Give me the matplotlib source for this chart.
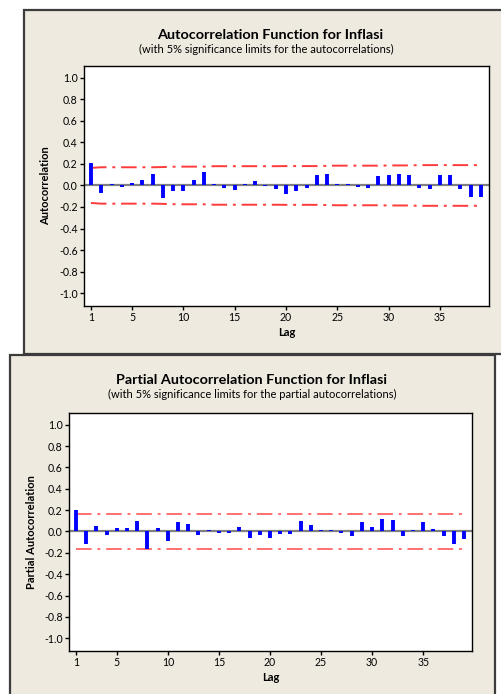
import matplotlib
matplotlib.use("Agg")
import matplotlib.pyplot as plt
from matplotlib.patches import Rectangle
import numpy as np

plt.rcParams['font.family'] = ['Lato', 'DejaVu Sans']

lags = list(range(1, 40))

acf = [0.205, -0.074, 0.015, -0.015, 0.020, 0.055, 0.105, -0.117, -0.055, -0.055,
       0.050, 0.123, 0.010, -0.028, -0.043, 0.010, 0.037, -0.005, -0.030, -0.078,
       -0.050, -0.025, 0.093, 0.110, 0.010, 0.010, -0.010, -0.025, 0.086, 0.100,
       0.110, 0.100, -0.025, -0.030, 0.100, 0.095, -0.030, -0.105, -0.105]

acf_limit = [0.163, 0.169, 0.169, 0.169, 0.169, 0.169, 0.169, 0.171, 0.174, 0.175,
             0.175, 0.175, 0.179, 0.179, 0.179, 0.179, 0.179, 0.179, 0.179, 0.180,
             0.180, 0.180, 0.180, 0.182, 0.184, 0.184, 0.184, 0.184, 0.184, 0.186,
             0.186, 0.186, 0.189, 0.189, 0.189, 0.189, 0.189, 0.189, 0.189]

pacf = [0.204, -0.113, 0.053, -0.030, 0.035, 0.035, 0.094, -0.167, 0.028, -0.090,
        0.088, 0.072, -0.030, 0.010, -0.010, -0.010, 0.044, -0.057, -0.030, -0.057,
        -0.020, -0.020, 0.097, 0.057, 0.012, 0.015, -0.010, -0.038, 0.088, 0.038,
        0.120, 0.107, -0.038, 0.015, 0.088, 0.022, -0.038, -0.113, -0.066]

pacf_limit = [0.163] * 39

xticks = [1, 5, 10, 15, 20, 25, 30, 35]
yticks = [1.0, 0.8, 0.6, 0.4, 0.2, 0.0, -0.2, -0.4, -0.6, -0.8, -1.0]

W, H = 502, 694
fig = plt.figure(figsize=(W / 100, H / 100), dpi=100)
fig.patch.set_facecolor('white')

BEIGE = '#eeeae0'
EDGE = '#3c3c3c'


def px_rect(x0, y0, x1, y1):
    return [x0 / W, 1 - y1 / H, (x1 - x0) / W, (y1 - y0) / H]


def panel(x0, y0, x1, y1):
    r = Rectangle((x0 / W, 1 - y1 / H), (x1 - x0) / W, (y1 - y0) / H,
                  transform=fig.transFigure, facecolor=BEIGE, edgecolor=EDGE,
                  linewidth=1.6, zorder=-5)
    fig.patches.append(r)


panel(24, 10, 520, 354)
panel(10, 355, 495, 710)


def draw(ax, vals, lim, limcolor, ylabel, ylpad):
    ax.set_facecolor('white')
    ax.axhline(0, color='#808080', lw=1.6, zorder=1)
    ax.vlines(lags, 0, vals, colors='#0000ff', lw=2.8, zorder=3)
    ax.plot(lags, lim, color=limcolor, lw=1.4, dashes=(8, 3, 1.5, 3), zorder=2)
    ax.plot(lags, [-v for v in lim], color=limcolor, lw=1.4, dashes=(8, 3, 1.5, 3), zorder=2)
    ax.set_xlim(0.32, 39.78)
    ax.set_ylim(-1.12, 1.11)
    ax.set_xticks(xticks)
    ax.set_yticks(yticks)
    ax.set_yticklabels([f'{v:.1f}' for v in yticks])
    ax.tick_params(axis='both', direction='out', length=3, width=1, labelsize=7.6,
                   pad=1.5, color='black')
    for s in ax.spines.values():
        s.set_color('black')
        s.set_linewidth(1.0)
    ax.set_xlabel('Lag', fontsize=8, fontweight='bold', labelpad=3)
    ax.set_ylabel(ylabel, fontsize=8, fontweight='bold', labelpad=ylpad)


ax1 = fig.add_axes(px_rect(84, 66, 489, 306))
ax1.set_zorder(2)
draw(ax1, acf, acf_limit, '#ff3a3a', 'Autocorrelation', 6)
ax2 = fig.add_axes(px_rect(69, 413, 472, 651))
ax2.set_zorder(2)
draw(ax2, pacf, pacf_limit, '#ff7070', 'Partial Autocorrelation', 5)

fig.text(270 / W, 1 - 35 / H, 'Autocorrelation Function for Inflasi', ha='center', va='center',
         fontsize=10.4, fontweight='bold')
fig.text(266 / W, 1 - 49 / H, '(with 5% significance limits for the autocorrelations)',
         ha='center', va='center', fontsize=8)
fig.text(252 / W, 1 - 380 / H, 'Partial Autocorrelation Function for Inflasi', ha='center',
         va='center', fontsize=10.4, fontweight='bold')
fig.text(252 / W, 1 - 394 / H, '(with 5% significance limits for the partial autocorrelations)',
         ha='center', va='center', fontsize=8)

fig.savefig('out.png', dpi=100)
